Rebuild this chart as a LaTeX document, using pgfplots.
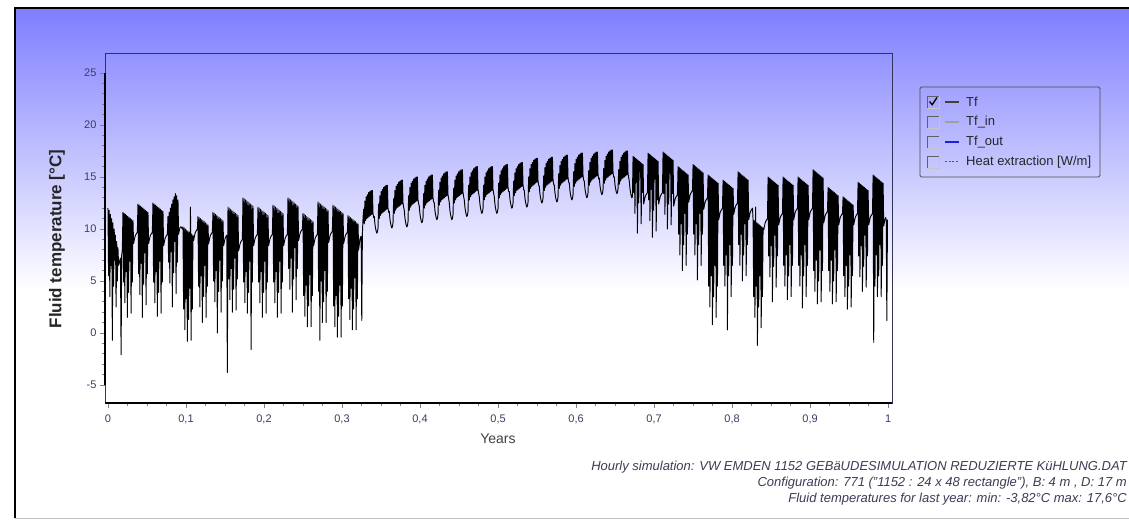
\documentclass[border=0pt]{standalone}
\usepackage{fontspec}
\setmainfont{Liberation Sans}
\usepackage{pgfplots}
\usepackage{pgfplotstable}
\pgfplotsset{compat=1.18}
\definecolor{tickcol}{RGB}{60,60,100}
\definecolor{framenavy}{RGB}{50,50,90}
\definecolor{bgblue}{RGB}{126,126,255}
\definecolor{txtcol}{RGB}{60,60,85}
\definecolor{tfin}{RGB}{160,160,160}
\definecolor{tfout}{RGB}{30,30,220}
\definecolor{heatgreen}{RGB}{30,130,30}

% Tf, one row every 7 h (24 rows per week), read week by week off the picture
\pgfplotstableread[row sep=\\, header=false]{
12.0\\5.5\\11.8\\3.5\\11.4\\6.5\\11.0\\-0.7\\10.6\\4.5\\10.0\\7.0\\9.4\\2.5\\8.8\\5.0\\8.2\\6.5\\6.7\\7.0\\7.2\\-2.1\\7.5\\8.0\\
11.6\\4.9\\11.5\\2.9\\11.4\\5.9\\11.3\\1.5\\11.2\\3.9\\11.1\\6.9\\11.0\\1.9\\10.9\\4.9\\10.8\\8.6\\8.9\\9.2\\9.4\\9.5\\9.6\\9.7\\
12.4\\5.7\\12.3\\3.7\\12.2\\6.7\\12.1\\1.5\\12.0\\4.7\\11.9\\7.7\\11.8\\2.7\\11.7\\5.7\\11.6\\8.6\\8.9\\9.2\\9.4\\9.5\\9.6\\9.7\\
12.5\\4.9\\12.4\\2.9\\12.3\\5.9\\12.2\\1.6\\12.1\\3.9\\12.0\\6.9\\11.9\\1.9\\11.8\\4.9\\11.7\\8.4\\8.7\\9.0\\9.2\\9.3\\9.4\\9.5\\
11.2\\6.8\\11.6\\4.8\\12.0\\7.8\\12.4\\2.5\\12.8\\5.8\\13.1\\8.8\\13.4\\3.8\\13.2\\6.8\\12.8\\9.5\\9.8\\10.1\\10.2\\10.2\\10.1\\10.0\\
10.2\\2.3\\10.1\\0.3\\10.0\\3.3\\9.9\\-0.8\\9.8\\1.3\\9.7\\4.3\\12.1\\-0.7\\9.5\\2.3\\9.4\\8.9\\9.2\\9.5\\9.7\\9.8\\9.9\\10.0\\
11.2\\4.5\\11.1\\2.5\\11.0\\5.5\\10.9\\1.0\\10.8\\3.5\\10.7\\6.5\\10.6\\1.5\\10.5\\4.5\\10.4\\8.6\\8.9\\9.2\\9.4\\9.5\\9.6\\9.7\\
11.6\\5.0\\11.5\\3.0\\11.4\\6.0\\11.3\\0.0\\11.2\\4.0\\11.1\\7.0\\11.0\\2.0\\10.9\\5.0\\10.8\\8.4\\8.7\\9.0\\9.2\\9.3\\9.4\\-3.8\\
12.1\\5.2\\12.0\\3.2\\11.9\\6.2\\11.8\\2.0\\11.7\\4.2\\11.6\\7.2\\11.5\\2.2\\11.4\\5.2\\11.3\\7.9\\8.2\\8.5\\8.7\\8.8\\8.9\\9.0\\
13.0\\4.9\\12.9\\2.9\\12.8\\5.9\\12.7\\1.9\\12.6\\3.9\\12.5\\6.9\\12.4\\-1.6\\12.3\\4.9\\12.2\\8.4\\8.7\\9.0\\9.2\\9.3\\9.4\\9.5\\
12.1\\4.9\\12.0\\2.9\\11.9\\5.9\\11.8\\1.5\\11.7\\3.9\\11.6\\6.9\\11.5\\1.9\\11.4\\4.9\\11.3\\8.4\\8.7\\9.0\\9.2\\9.3\\9.4\\9.5\\
12.3\\4.9\\12.2\\2.9\\12.1\\5.9\\12.0\\1.5\\11.9\\3.9\\11.8\\6.9\\11.7\\1.9\\11.6\\4.9\\11.5\\8.4\\8.7\\9.0\\9.2\\9.3\\9.4\\9.5\\
13.0\\6.2\\12.9\\4.2\\12.8\\7.2\\12.7\\2.0\\12.6\\5.2\\12.5\\8.2\\12.4\\3.2\\12.3\\6.2\\12.2\\8.9\\9.2\\9.5\\9.7\\9.8\\9.9\\10.0\\
11.5\\3.6\\11.4\\1.6\\11.3\\4.6\\11.2\\0.6\\11.1\\2.6\\11.0\\5.6\\10.9\\0.6\\10.8\\3.6\\10.7\\8.4\\8.7\\9.0\\9.2\\9.3\\9.4\\9.5\\
12.6\\4.0\\12.5\\-0.7\\12.4\\5.0\\12.3\\1.0\\12.2\\3.0\\12.1\\6.0\\12.0\\1.0\\11.9\\4.0\\11.8\\8.7\\9.0\\9.3\\9.5\\9.6\\9.7\\9.8\\
12.3\\2.6\\12.2\\0.6\\12.1\\3.6\\12.0\\-0.4\\11.9\\1.6\\11.8\\4.6\\11.7\\-0.4\\11.6\\2.6\\11.5\\8.6\\8.9\\9.2\\9.4\\9.5\\9.6\\9.7\\
11.3\\3.3\\11.2\\1.3\\11.1\\4.3\\11.0\\0.3\\10.9\\2.3\\10.8\\5.3\\10.7\\0.3\\10.6\\3.3\\10.5\\8.0\\8.5\\9.0\\9.2\\9.3\\1.2\\9.5\\
11.0\\11.9\\10.5\\12.7\\10.8\\13.1\\11.0\\13.3\\11.1\\13.5\\11.2\\13.6\\11.3\\13.7\\11.4\\13.7\\11.5\\11.1\\11.2\\10.5\\10.1\\9.8\\9.6\\9.7\\
10.1\\12.4\\11.0\\13.2\\11.3\\13.6\\11.5\\13.8\\11.6\\14.0\\11.7\\14.1\\11.8\\14.2\\11.9\\14.2\\12.0\\11.6\\11.7\\11.0\\10.6\\10.3\\10.1\\10.2\\
10.6\\12.9\\11.5\\13.7\\11.8\\14.1\\12.0\\14.3\\12.1\\14.5\\12.2\\14.6\\12.3\\14.7\\12.4\\14.7\\12.5\\12.1\\11.8\\11.1\\10.7\\10.4\\10.2\\10.3\\
10.7\\13.2\\11.8\\14.0\\12.1\\14.4\\12.3\\14.6\\12.4\\14.8\\12.5\\14.9\\12.6\\15.0\\12.7\\15.0\\12.8\\12.4\\12.2\\11.5\\11.1\\10.8\\10.6\\10.7\\
11.1\\13.4\\12.0\\14.2\\12.3\\14.6\\12.5\\14.8\\12.6\\15.0\\12.7\\15.1\\12.8\\15.2\\12.9\\15.2\\13.0\\12.6\\12.5\\11.8\\11.4\\11.1\\10.9\\11.0\\
11.4\\13.7\\12.3\\14.5\\12.6\\14.9\\12.8\\15.1\\12.9\\15.3\\13.0\\15.4\\13.1\\15.5\\13.2\\15.5\\13.3\\12.9\\12.5\\11.8\\11.4\\11.1\\10.9\\11.0\\
11.4\\13.9\\12.5\\14.7\\12.8\\15.1\\13.0\\15.3\\13.1\\15.5\\13.2\\15.6\\13.3\\15.7\\13.4\\15.7\\13.5\\13.1\\12.8\\12.1\\11.7\\11.4\\11.2\\11.3\\
11.7\\14.2\\12.8\\15.0\\13.1\\15.4\\13.3\\15.6\\13.4\\15.8\\13.5\\15.9\\13.6\\16.0\\13.7\\16.0\\13.8\\13.4\\13.1\\12.4\\12.0\\11.7\\11.5\\11.6\\
12.0\\14.2\\12.8\\15.0\\13.1\\15.4\\13.3\\15.6\\13.4\\15.8\\13.5\\15.9\\13.6\\16.0\\13.7\\16.0\\13.8\\13.4\\13.1\\12.4\\12.0\\11.7\\11.5\\11.6\\
12.0\\14.4\\13.0\\15.2\\13.3\\15.6\\13.5\\15.8\\13.6\\16.0\\13.7\\16.1\\13.8\\16.2\\13.9\\16.2\\14.0\\13.6\\13.6\\12.9\\12.5\\12.2\\12.0\\12.1\\
12.5\\14.6\\13.2\\15.4\\13.5\\15.8\\13.7\\16.0\\13.8\\16.2\\13.9\\16.3\\14.0\\16.4\\14.1\\16.4\\14.2\\13.8\\13.7\\13.0\\12.6\\12.3\\12.1\\12.2\\
12.6\\15.0\\13.6\\15.8\\13.9\\16.2\\14.1\\16.4\\14.2\\16.6\\14.3\\16.7\\14.4\\16.8\\14.5\\16.8\\14.6\\14.2\\14.1\\13.4\\13.0\\12.7\\12.5\\12.6\\
13.0\\15.1\\13.7\\15.9\\14.0\\16.3\\14.2\\16.5\\14.3\\16.7\\14.4\\16.8\\14.5\\16.9\\14.6\\16.9\\14.7\\14.3\\14.2\\13.5\\13.1\\12.8\\12.6\\12.7\\
13.1\\15.3\\13.9\\16.1\\14.2\\16.5\\14.4\\16.7\\14.5\\16.9\\14.6\\17.0\\14.7\\17.1\\14.8\\17.1\\14.9\\14.5\\14.4\\13.7\\13.3\\13.0\\12.8\\12.9\\
13.3\\15.5\\14.1\\16.3\\14.4\\16.7\\14.6\\16.9\\14.7\\17.1\\14.8\\17.2\\14.9\\17.3\\15.0\\17.3\\15.1\\14.7\\14.6\\13.9\\13.5\\13.2\\13.0\\13.1\\
13.5\\15.6\\14.2\\16.4\\14.5\\16.8\\14.7\\17.0\\14.8\\17.2\\14.9\\17.3\\15.0\\17.4\\15.1\\17.4\\15.2\\14.8\\14.9\\14.2\\13.8\\13.5\\13.3\\13.4\\
13.8\\15.8\\14.4\\16.6\\14.7\\17.0\\14.9\\17.2\\15.0\\17.4\\15.1\\17.5\\15.2\\17.6\\15.3\\17.6\\15.4\\15.0\\15.0\\14.3\\13.9\\13.6\\13.4\\13.5\\
13.9\\15.7\\14.3\\16.5\\14.6\\16.9\\14.8\\17.1\\14.9\\17.3\\15.0\\17.4\\15.1\\17.5\\15.2\\17.5\\15.3\\14.9\\14.6\\13.9\\13.5\\13.2\\13.0\\13.1\\
17.0\\13.5\\16.9\\11.5\\16.8\\14.5\\16.7\\9.6\\16.6\\12.5\\16.5\\15.5\\16.4\\10.5\\16.3\\13.5\\16.2\\12.4\\12.7\\13.0\\13.2\\13.3\\13.4\\13.5\\
17.3\\12.8\\17.2\\10.8\\17.1\\13.8\\17.0\\9.2\\16.9\\11.8\\16.8\\14.8\\16.7\\9.8\\16.6\\12.8\\16.5\\12.4\\12.7\\13.0\\13.2\\13.3\\13.4\\13.5\\
17.4\\13.4\\17.3\\11.4\\17.2\\14.4\\17.1\\10.0\\17.0\\12.4\\16.9\\15.4\\16.8\\10.4\\16.7\\13.4\\16.6\\12.2\\12.5\\12.8\\13.0\\13.1\\13.2\\13.3\\
16.0\\9.5\\15.9\\7.5\\15.8\\10.5\\15.7\\6.0\\15.6\\8.5\\15.5\\11.5\\15.4\\6.5\\15.3\\9.5\\15.2\\12.6\\12.9\\13.2\\13.4\\13.5\\13.6\\13.7\\
16.2\\9.5\\16.1\\7.5\\16.0\\10.5\\15.9\\5.1\\15.8\\8.5\\15.7\\11.5\\15.6\\6.5\\15.5\\9.5\\15.4\\11.9\\12.2\\12.5\\12.7\\12.8\\12.9\\13.0\\
15.2\\4.5\\15.1\\2.5\\15.0\\5.5\\14.9\\0.8\\14.8\\3.5\\14.7\\6.5\\14.6\\1.5\\14.5\\4.5\\14.4\\10.9\\11.2\\11.5\\11.7\\11.8\\11.9\\12.0\\
14.7\\6.5\\14.6\\4.5\\14.5\\7.5\\14.4\\0.3\\14.3\\5.5\\14.2\\8.5\\14.1\\3.5\\14.0\\6.5\\13.9\\11.4\\11.7\\12.0\\12.2\\12.3\\12.4\\12.5\\
15.5\\8.5\\15.4\\6.5\\15.3\\9.5\\15.2\\5.0\\15.1\\7.5\\15.0\\10.5\\14.9\\5.5\\14.8\\8.5\\14.7\\10.9\\11.2\\11.5\\11.7\\11.8\\11.9\\12.0\\
10.9\\3.5\\10.8\\1.5\\12.1\\4.5\\10.6\\-1.2\\10.5\\2.5\\10.4\\5.5\\10.3\\0.5\\10.2\\3.5\\10.1\\9.9\\10.2\\10.5\\10.7\\10.8\\10.9\\11.0\\
15.0\\7.4\\14.9\\5.4\\14.8\\8.4\\14.7\\3.0\\14.6\\6.4\\14.5\\9.4\\14.4\\4.4\\14.3\\7.4\\14.2\\10.4\\10.7\\11.0\\11.2\\11.3\\11.4\\11.5\\
15.0\\6.5\\14.9\\4.5\\14.8\\7.5\\14.7\\3.2\\14.6\\5.5\\14.5\\8.5\\14.4\\3.5\\14.3\\6.5\\14.2\\10.9\\11.2\\11.5\\11.7\\11.8\\11.9\\12.0\\
15.0\\6.5\\14.9\\4.5\\14.8\\7.5\\14.7\\2.4\\14.6\\5.5\\14.5\\8.5\\14.4\\3.5\\14.3\\6.5\\14.2\\10.9\\11.2\\11.5\\11.7\\11.8\\11.9\\12.0\\
15.7\\6.0\\15.6\\4.0\\15.5\\7.0\\15.4\\2.8\\15.3\\5.0\\15.2\\8.0\\15.1\\3.0\\15.0\\6.0\\14.9\\10.6\\10.9\\11.2\\11.4\\11.5\\11.6\\11.7\\
14.0\\6.0\\13.9\\4.0\\13.8\\7.0\\13.7\\2.8\\13.6\\5.0\\13.5\\8.0\\13.4\\3.0\\13.3\\6.0\\13.2\\10.4\\10.7\\11.0\\11.2\\11.3\\11.4\\11.5\\
13.1\\5.5\\13.0\\3.5\\12.9\\6.5\\12.8\\2.3\\12.7\\4.5\\12.6\\7.5\\12.5\\2.5\\12.4\\5.5\\12.3\\10.4\\10.7\\11.0\\11.2\\11.3\\11.4\\11.5\\
14.5\\7.4\\14.4\\5.4\\14.3\\8.4\\14.2\\4.0\\14.1\\6.4\\14.0\\9.4\\13.9\\4.4\\13.8\\7.4\\13.7\\10.4\\10.7\\11.0\\11.2\\11.3\\11.4\\11.5\\
15.2\\-0.9\\15.1\\4.5\\15.0\\7.5\\14.9\\3.5\\14.8\\5.5\\14.7\\8.5\\14.6\\3.5\\14.5\\6.5\\14.4\\10.3\\10.6\\10.9\\11.1\\10.9\\1.2\\10.9\\
}\tfdata

\begin{document}
\begin{tikzpicture}[x=1pt,y=1pt]
\useasboundingbox (0,0) rectangle (1129,521);
\fill[white] (0,0) rectangle (1129,521);
\shade[top color=bgblue, bottom color=white] (15,231) rectangle (1129,513);
\draw[gray!50, line width=0.8pt] (15,3) -- (1135,3);
\draw[black, line width=1.2pt] (15,3) -- (15,513) -- (1135,513);

\begin{axis}[
  at={(105pt,118pt)}, anchor=south west,
  scale only axis, width=787pt, height=350pt,
  xmin=-0.0038, xmax=1.005, ymin=-6.73, ymax=26.92,
  clip=false,
  axis line style={draw=none},
  xtick={0,0.1,0.2,0.3,0.4,0.5,0.6,0.7,0.8,0.9,1},
  ytick={-5,0,5,10,15,20,25},
  minor x tick num=3, minor y tick num=4,
  tick align=outside, xtick pos=left, ytick pos=left,
  major tick length=5pt, minor tick length=3pt,
  tick style={color=gray, line width=0.6pt},
  ticklabel style={font=\fontsize{11}{13}\selectfont, text=tickcol},
  xticklabel style={yshift=-3pt},
  /pgf/number format/use comma,
  /pgf/number format/assume math mode=true,
]
\addplot[black, line width=0.95pt, line join=round] table[x expr=\coordindex/1248, y index=0] {\tfdata};
\draw[framenavy, line width=0.8pt] (rel axis cs:0,0) rectangle (rel axis cs:1,1);
\draw[black, line width=1.8pt] (axis cs:-0.0038,-5) -- (axis cs:-0.0038,25);
\draw[black, line width=1.8pt] (rel axis cs:0,0) -- (rel axis cs:1,0);
\end{axis}

\node[rotate=90, font=\bfseries\fontsize{17}{20}\selectfont, text=black!85] at (57,282) {Fluid temperature [°C]};
\node[anchor=base, font=\fontsize{14}{16}\selectfont, text=black!75] at (498,77) {Years};

% legend
\draw[gray!60!black, line width=0.8pt, rounded corners=1.5pt] (920,434) rectangle (1100,344);
\foreach \yy in {419,399,379,359} {
  \draw[gray!75!black, line width=0.7pt] (927,\yy-6) -- (927,\yy+6) -- (939,\yy+6);
  \draw[gray!45, line width=0.7pt] (939,\yy+6) -- (939,\yy-6) -- (927,\yy-6);
}
\draw[black, line width=1.3pt] (929.5,419.5) -- (932.2,416.3) -- (937,423.5);
\draw[black!75, line width=1.2pt] (945,419) -- (959,419);
\draw[tfin, line width=1.2pt] (945,399) -- (959,399);
\draw[tfout, line width=1.2pt] (945,379) -- (959,379);
\draw[heatgreen, line width=1pt, dash pattern=on 2pt off 1.5pt] (945,359) -- (959,359);
\begin{scope}[every node/.style={anchor=west, inner sep=0, font=\fontsize{13}{15}\selectfont, text=black!85}]
\node at (966,419) {Tf};
\node at (966,399) {Tf\_in};
\node at (966,379) {Tf\_out};
\node at (966,359) {Heat extraction [W/m]};
\end{scope}

% caption lines
\begin{scope}[every node/.style={anchor=base east, inner sep=0, font=\itshape\fontsize{13}{15}\selectfont, text=txtcol}]
\node at (1127,50) {Hourly simulation: VW EMDEN 1152 GEBäUDESIMULATION REDUZIERTE KüHLUNG.DAT};
\node at (1127,34) {Configuration: 771 ("1152 : 24 x 48 rectangle"), B: 4 m , D: 17 m};
\node at (1127,18) {Fluid temperatures for last year: min: -3,82°C max: 17,6°C};
\end{scope}
\end{tikzpicture}
\end{document}
